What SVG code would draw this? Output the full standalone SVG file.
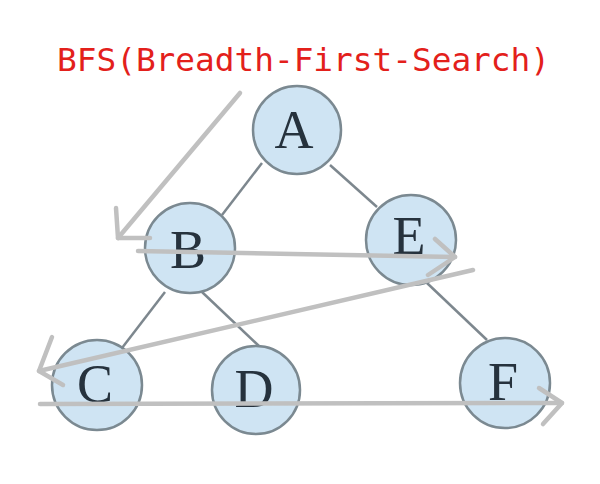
<svg xmlns="http://www.w3.org/2000/svg" width="600" height="484" viewBox="0 0 600 484">
<style>
.node circle{fill:#cfe4f3;stroke:#7b8991;stroke-width:2.5}
.node text{font-family:"Liberation Serif","Times New Roman",serif;font-size:54px;fill:#26323d;text-anchor:middle}
.edge{stroke:#7d878e;stroke-width:2.5;fill:none}
.arrow{stroke:#c0c0c0;stroke-width:4.5;fill:none;stroke-linecap:round;stroke-linejoin:round}
</style>
<rect width="600" height="484" fill="#ffffff"/>
<text x="57" y="71" textLength="493" lengthAdjust="spacingAndGlyphs" font-family="'DejaVu Sans Mono','Liberation Mono',monospace" font-size="32.5" fill="#e3201b">BFS(Breadth-First-Search)</text>
<g id="edges">
<line class="edge" x1="262" y1="163" x2="222" y2="215"/>
<line class="edge" x1="330" y1="165" x2="377" y2="207"/>
<line class="edge" x1="165" y1="292" x2="122" y2="348"/>
<line class="edge" x1="202" y1="292" x2="260" y2="347"/>
<line class="edge" x1="427" y1="283" x2="487" y2="340"/>
</g>
<g id="A" class="node"><circle cx="297" cy="130" r="44"/><text x="294" y="148">A</text></g>
<g id="B" class="node"><circle cx="190" cy="248" r="45"/><text x="188" y="268">B</text></g>
<g id="E" class="node"><circle cx="411" cy="240" r="45"/><text x="409" y="254">E</text></g>
<g id="C" class="node"><circle cx="97" cy="385" r="45"/><text x="95" y="402">C</text></g>
<g id="D" class="node"><circle cx="256" cy="390" r="44"/><text x="254" y="407">D</text></g>
<g id="F" class="node"><circle cx="505" cy="383" r="45"/><text x="503" y="400">F</text></g>
<g id="connectors">
<polyline class="arrow" points="240,93 118,238"/>
<polyline class="arrow" points="116,208 118,238 150,238"/>
<polyline class="arrow" points="138,251 293,254 455,257"/>
<polyline class="arrow" points="435,239 455,257 428,275"/>
<polyline class="arrow" points="473,270 39,371"/>
<polyline class="arrow" points="52,337 39,371 63,385"/>
<polyline class="arrow" points="40,404 562,403"/>
<polyline class="arrow" points="539,388 562,403 543,424"/>
</g>
</svg>
